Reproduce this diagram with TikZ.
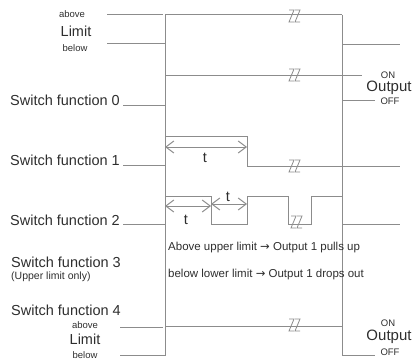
\documentclass[tikz,border=0pt]{standalone}
\usepackage{fontspec}
\setmainfont{Liberation Sans}
\newfontfamily\symfont{DejaVu Sans}
\usepackage{xcolor}
\usetikzlibrary{arrows.meta,positioning}

\definecolor{linegray}{HTML}{8C8C8C}
\definecolor{textgray}{HTML}{2E2E2E}

\tikzset{
  sig/.style={draw=linegray, line width=1pt},
  tdim/.style={sig, {Straight Barb[length=8pt,width=12pt]}-{Straight Barb[length=8pt,width=12pt]}},
  lbl/.style={inner sep=0pt, text=textgray, font=\fontsize{14.5}{16}\selectfont},
  tiny/.style={inner sep=0pt, text=textgray, font=\fontsize{9.5}{10}\selectfont},
  note/.style={inner sep=0pt, text=textgray, font=\fontsize{11.5}{13}\selectfont},
  outlbl/.style={inner sep=0pt, text=textgray, font=\fontsize{15}{17}\selectfont},
  brkmark/.pic={
    \draw[sig, line width=0.8pt] (-7,-6) -- (-2,-6) -- (-7,6) -- (-2,6);
    \draw[sig, line width=0.8pt] (-1,-6) -- (4,-6) -- (-1,6) -- (4,6);
  }
}

\begin{document}
\begin{tikzpicture}[x=1pt, y=-1pt]
  \useasboundingbox (0,0) rectangle (417,361);

  % time markers
  \draw[sig] (165,15) -- (165,356);
  \draw[sig] (342,15) -- (342,356);

  % limit (top)
  \node[tiny]   (lim_a) at (72,14) {above};
  \node[lbl]    (lim)   at (76,31) {Limit};
  \node[tiny]   (lim_b) at (75,48) {below};
  \draw[sig] (107,15) -- (163,15);
  \draw[sig] (107,44) -- (165,44);
  \draw[sig] (165,15) -- (342,15);
  \draw[sig] (342,45) -- (400,45);
  \pic at (296,16) {brkmark};

  % switch function 0
  \node[lbl, anchor=east] (sf_0) at (120,100) {Switch function 0};
  \draw[sig] (123,105) -- (165,105);
  \draw[sig] (165,75) -- (362,75);
  \draw[sig] (342,100) -- (375,100);
  \pic at (296,75) {brkmark};
  \node[tiny] (on_0)  at (388,75)  {ON};
  \node[outlbl] (out_0) at (389,88)  {Output};
  \node[tiny] (off_0) at (390,101) {OFF};

  % switch function 1
  \node[lbl, anchor=east] (sf_1) at (120,160) {Switch function 1};
  \draw[sig] (123,165) -- (165,165);
  \draw[sig] (165,136) -- (247,136) -- (247,166) -- (400,166);
  \pic at (296,166) {brkmark};
  \draw[tdim] (165,147) -- (247,147);
  \node[lbl] (t_1) at (205,158) {t};

  % switch function 2
  \node[lbl, anchor=east] (sf_2) at (120,220) {Switch function 2};
  \draw[sig] (123,224) -- (165,224);
  \draw[sig] (165,196) -- (211,196) -- (211,224) -- (247,224) -- (247,196)
             -- (288,196) -- (288,224) -- (311,224) -- (311,196) -- (342,196)
             -- (342,224) -- (400,224);
  \pic at (298,222) {brkmark};
  \draw[tdim] (165,206) -- (211,206);
  \draw[tdim] (211,204) -- (247,204);
  \node[lbl] (t_2a) at (186,220) {t};
  \node[lbl] (t_2b) at (228,197) {t};

  % switch function 3
  \node[lbl, anchor=west] (sf_3) at (11,262) {Switch function 3};
  \node[note, anchor=west, font=\fontsize{10.5}{12}\selectfont] (sf_3n) at (11,277) {(Upper limit only)};
  \node[note, anchor=west] (up)   at (168,248) {Above upper limit {\symfont →} Output 1 pulls up};
  \node[note, anchor=west] (down) at (168,275) {below lower limit {\symfont →} Output 1 drops out};

  % switch function 4
  \node[lbl, anchor=west] (sf_4) at (11,310) {Switch function 4};
  \node[tiny]   (lim4_a) at (85,325) {above};
  \node[lbl]    (lim4)   at (85,339) {Limit};
  \node[tiny]   (lim4_b) at (85,355) {below};
  \draw[sig] (120,327) -- (163,327);
  \draw[sig] (120,355) -- (165,355);
  \draw[sig] (165,326) -- (342,326);
  \draw[sig] (342,355) -- (375,355);
  \pic at (296,325) {brkmark};
  \node[tiny] (on_4)  at (388,323) {ON};
  \node[outlbl] (out_4) at (389,337) {Output};
  \node[tiny] (off_4) at (390,352) {OFF};
\end{tikzpicture}
\end{document}
